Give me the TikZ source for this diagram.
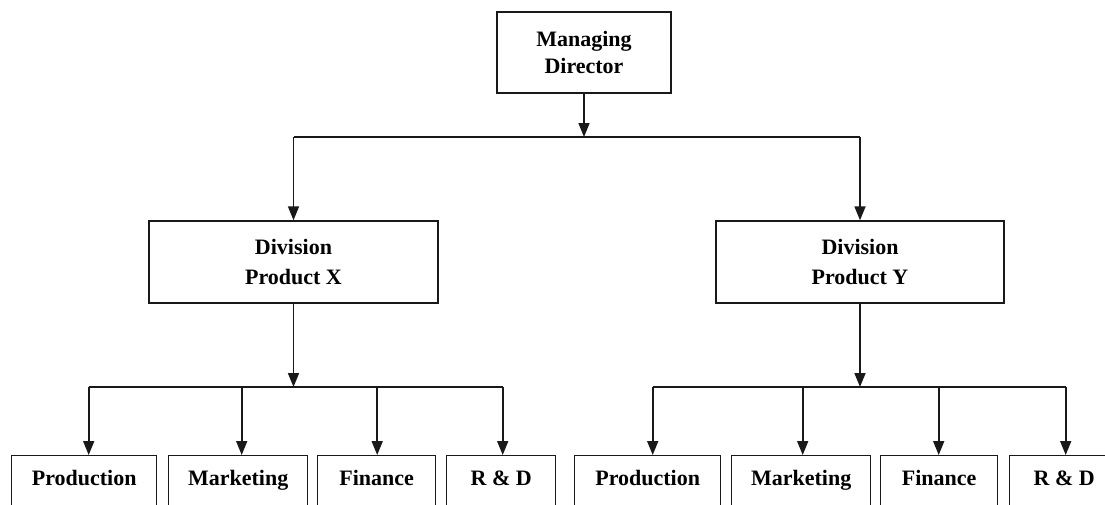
\documentclass[tikz,border=0pt]{standalone}
\usepackage{fontspec}
\setmainfont{Liberation Serif}
\usetikzlibrary{arrows.meta}
\begin{document}
\begin{tikzpicture}[x=1pt,y=-1pt,
  line/.style={line width=1.7pt,draw=black!90},
  arr/.style={line,-{Triangle[width=11pt,length=14pt]}},
  unit/.style={draw=black!90,line width=1.4pt,align=center,inner sep=0pt,
    font=\bfseries\fontsize{22}{30}\selectfont},
  leaf/.style={draw=black!90,line width=1.4pt,anchor=north west,inner xsep=0pt,inner ysep=0pt,
    text height=30pt,text depth=60pt,font=\bfseries\fontsize{22}{26}\selectfont}]
\path[use as bounding box,clip] (0,0) rectangle (1105,504);
\fill[white] (0,0) rectangle (1105,504);

% top level
\node[unit,minimum width=174pt,minimum height=81pt,
  font=\bfseries\fontsize{22}{27}\selectfont] (md) at (584,52.5) {Managing\\Director};

% divisions
\node[unit,minimum width=289pt,minimum height=82pt] (divx) at (293.5,262) {Division\\Product X};
\node[unit,minimum width=288pt,minimum height=82pt] (divy) at (860,262) {Division\\Product Y};

% departments of division X
\node[leaf,minimum width=145pt] (px) at (11,455) {Production};
\node[leaf,minimum width=139pt] (mx) at (168,455) {Marketing};
\node[leaf,minimum width=118pt] (fx) at (317,455) {Finance};
\node[leaf,minimum width=109pt] (rx) at (446,455) {R \& D};

% departments of division Y
\node[leaf,minimum width=146pt] (py) at (574,455) {Production};
\node[leaf,minimum width=139pt] (my) at (731,455) {Marketing};
\node[leaf,minimum width=117pt] (fy) at (880,455) {Finance};
\node[leaf,minimum width=109pt] (ry) at (1009,455) {R \& D};

% arrow entry points on the department boxes
\foreach \d/\s in {px/4.5,mx/3.5,fx/0.5,rx/1.5,py/5,my/1.5,fy/-0.5,ry/1.5}
  \coordinate (in-\d) at ([xshift=\s pt]\d.north);

% managing director to divisions
\draw[arr] (md.south) -- (md.south |- 0,137);
\draw[line] (divx.north |- 0,137) -- (divy.north |- 0,137);
\draw[arr] (divx.north |- 0,137) -- (divx.north);
\draw[arr] (divy.north |- 0,137) -- (divy.north);

% division X to its departments
\draw[arr] (divx.south) -- (divx.south |- 0,387);
\draw[line] (in-px |- 0,387) -- (in-rx |- 0,387);
\foreach \d in {px,mx,fx,rx}
  \draw[arr] (in-\d |- 0,387) -- (in-\d);

% division Y to its departments
\draw[arr] (divy.south) -- (divy.south |- 0,387);
\draw[line] (in-py |- 0,387) -- (in-ry |- 0,387);
\foreach \d in {py,my,fy,ry}
  \draw[arr] (in-\d |- 0,387) -- (in-\d);
\end{tikzpicture}
\end{document}
